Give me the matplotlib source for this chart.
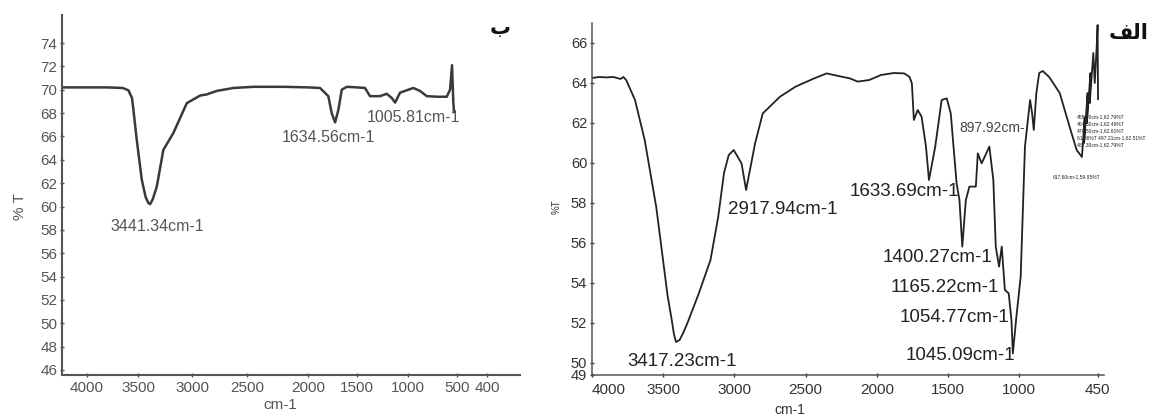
import numpy as np
import matplotlib
matplotlib.use("Agg")
import matplotlib.pyplot as plt

# ---------------- data ----------------
# Panel "ب" (left)
left_wn = [4245, 4000, 3800, 3650, 3595, 3560, 3546, 3513, 3466, 3430, 3405, 3389, 3365, 3327,
           3266, 3173, 3049, 2927, 2866, 2775, 2624, 2448, 2200, 2000, 1878, 1793, 1759, 1724,
           1690, 1656, 1605, 1500, 1422, 1373, 1275, 1209, 1160, 1127, 1078, 946, 878, 809,
           700, 605, 571, 551, 538, 531]
left_T = [70.2, 70.2, 70.2, 70.15, 69.95, 69.3, 68.3, 65.7, 62.3, 60.8, 60.3, 60.2, 60.6, 61.7,
          64.85, 66.3, 68.85, 69.5, 69.6, 69.9, 70.15, 70.25, 70.25, 70.2, 70.15, 69.45, 68.0,
          67.2, 68.3, 70.0, 70.25, 70.2, 70.15, 69.45, 69.45, 69.65, 69.3, 68.9, 69.75, 70.15,
          69.9, 69.45, 69.4, 69.4, 70.0, 72.1, 69.0, 68.1]
left_peaks = ["3441.34cm-1", "1634.56cm-1", "1005.81cm-1"]
left_xticks = [4000, 3500, 3000, 2500, 2000, 1500, 1000, 500, 400]
left_yticks = [46, 48, 50, 52, 54, 56, 58, 60, 62, 64, 66, 68, 70, 72, 74]

# Panel "الف" (right)
right_wn = [3998, 3950, 3900, 3850, 3800, 3780, 3760, 3698, 3630, 3549, 3495, 3470, 3440,
            3425, 3410, 3385, 3360, 3331, 3250, 3168, 3114, 3073, 3040, 3005, 2950, 2918,
            2855, 2801, 2679, 2570, 2450, 2352, 2270, 2189, 2135, 2053, 1971, 1880, 1808,
            1770, 1754, 1740, 1713, 1686, 1655, 1634, 1590, 1545, 1509, 1481, 1440, 1420,
            1400, 1375, 1350, 1305, 1291, 1264, 1210, 1182, 1165, 1142, 1123, 1101, 1074,
            1055, 1045, 1020, 990, 960, 924, 910, 898, 880, 860, 835, 790, 716, 681, 646,
            597, 560, 540, 545, 520, 525, 500, 505, 480, 470, 455, 450, 447]
right_T = [64.25, 64.3, 64.28, 64.3, 64.2, 64.3, 64.15, 63.15, 61.15, 57.8, 54.8, 53.4, 52.15,
           51.45, 51.05, 51.15, 51.5, 51.98, 53.48, 55.15, 57.3, 59.5, 60.4, 60.65, 59.98, 58.65,
           60.98, 62.48, 63.32, 63.82, 64.2, 64.48, 64.35, 64.23, 64.07, 64.15, 64.4, 64.5, 64.48,
           64.3, 63.98, 62.15, 62.65, 62.32, 60.82, 59.15, 60.82, 63.15, 63.23, 62.48, 58.98,
           58.15, 55.82, 58.15, 58.82, 58.82, 60.48, 59.98, 60.82, 59.15, 55.82, 54.82, 55.82,
           53.65, 53.48, 52.15, 50.48, 52.32, 54.32, 60.82, 63.15, 62.5, 61.65, 63.5, 64.5, 64.6,
           64.3, 63.5, 62.65, 61.8, 60.65, 60.3, 62.3, 61.0, 63.5, 62.0, 64.5, 63.0, 65.5, 64.0,
           66.0, 66.9, 63.2]
right_peaks = ["3417.23cm-1", "2917.94cm-1", "1633.69cm-1", "897.92cm-",
               "1400.27cm-1", "1165.22cm-1", "1054.77cm-1", "1045.09cm-1"]
right_small = ["455.70cm-1,62.79%T", "464.30cm-1,62.49%T", "479.50cm-1,62.61%T",
               "61.36%T 497.21cm-1,62.51%T", "487.30cm-1,62.79%T"]
right_small2 = "617.60cm-1,59.95%T"
right_xticks = [4000, 3500, 3000, 2500, 2000, 1500, 1000, 450]
right_yticks = [50, 52, 54, 56, 58, 60, 62, 64, 66]

# ---------------- figure ----------------
W, H = 1149, 417
fig = plt.figure(figsize=(W / 100, H / 100), dpi=100)
FONT = ["Liberation Sans", "DejaVu Sans"]
plt.rcParams["font.family"] = FONT


def fx(px):
    return px / W


def fy(py):
    return 1 - py / H


# piecewise scale for the left panel (reference tick spacing is uneven)
L_WN = np.array([200, 400, 500, 1000, 1500, 2000, 2500, 3000, 3500, 4000, 4400], float)
L_PX = np.array([547, 487, 457, 408, 357, 308, 247, 192, 138, 87, 46], float)


def l_fwd(w):
    return -np.interp(np.asarray(w, float), L_WN, L_PX)


def l_inv(v):
    return np.interp(-np.asarray(v, float), L_PX[::-1], L_WN[::-1])


# ---- left panel ----
axL = fig.add_axes([fx(62), fy(375), fx(520 - 62), (375 - 15) / H])
axL.set_xscale("function", functions=(l_fwd, l_inv))
axL.plot(left_wn, left_T, color="#3a3a3a", lw=1.8, solid_joinstyle="round")
axL.set_xlim(4245, 290)
axL.set_ylim(45.57, 76.4)
axL.set_xticks(left_xticks)
axL.set_xticklabels([str(t) for t in left_xticks])
axL.set_yticks(left_yticks)
axL.minorticks_off()
for s in ["top", "right"]:
    axL.spines[s].set_visible(False)
for s in ["left", "bottom"]:
    axL.spines[s].set_color("#555555")
    axL.spines[s].set_linewidth(1.5)
axL.tick_params(axis="both", labelsize=11, colors="#555555", length=3, width=1,
                direction="inout", pad=2)
axL.tick_params(axis="x", pad=3)

fig.text(fx(20), fy(207), "% T", rotation=90, ha="center", va="center",
         fontsize=11, color="#555555")
fig.text(fx(280), fy(405), "cm-1", ha="center", va="center", fontsize=11, color="#555555")

fig.text(fx(157), fy(227), left_peaks[0], ha="center", va="center", fontsize=11.5, color="#555555")
fig.text(fx(328), fy(138), left_peaks[1], ha="center", va="center", fontsize=11.5, color="#555555")
fig.text(fx(367), fy(117), left_peaks[2], ha="left", va="center", fontsize=11.5, color="#555555")

fig.text(fx(500), fy(28), "\u0628", ha="center", va="center", fontsize=15,
         fontweight="bold", family=["DejaVu Sans"], color="#111111")

# ---- right panel ----
axR = fig.add_axes([fx(592), fy(375), fx(1104 - 592), (375 - 23) / H])
axR.plot(right_wn, right_T, color="#222222", lw=1.3, solid_joinstyle="round")
axR.set_xlim(4000, 405)
axR.set_ylim(49.4, 67.0)
axR.set_xticks(right_xticks)
axR.set_xticklabels([str(t) for t in right_xticks])
axR.set_yticks([49.4] + right_yticks)
axR.set_yticklabels(["49"] + [str(t) for t in right_yticks])
for s in ["top", "right"]:
    axR.spines[s].set_visible(False)
for s in ["left", "bottom"]:
    axR.spines[s].set_color("#555555")
    axR.spines[s].set_linewidth(1.1)
axR.tick_params(axis="both", labelsize=10.5, colors="#333333", length=3, width=1,
                direction="inout", pad=2)
axR.tick_params(axis="x", labelsize=11, pad=4)
axR.get_xticklabels()[0].set_ha("left")

fig.text(fx(557), fy(207), "%T", rotation=90, ha="center", va="center",
         fontsize=7, color="#333333")
fig.text(fx(790), fy(410), "cm-1", ha="center", va="center", fontsize=10, color="#333333")

rp_pos = [(682, 362, "center"), (728, 210, "left"), (850, 192, "left"),
          (959, 128, "left"), (883, 257, "left"), (891, 288, "left"),
          (900, 317, "left"), (906, 355, "left")]
for (px, py, ha), lab in zip(rp_pos, right_peaks):
    size = 10 if lab.startswith("897") else 13.5
    col = "#444444" if lab.startswith("897") else "#222222"
    fig.text(fx(px), fy(py), lab, ha=ha, va="center", fontsize=size, color=col)

for i, lab in enumerate(right_small):
    fig.text(fx(1077), fy(117 + 7 * i), lab, ha="left", va="center", fontsize=3.6,
             color="#222222")
fig.text(fx(1053), fy(177), right_small2, ha="left", va="center", fontsize=3.6,
         color="#222222")

fig.text(fx(1148), fy(33), "\uFED2\uFEDF\u0627", ha="right", va="center", fontsize=15,
         fontweight="bold", family=["DejaVu Sans"], color="#111111")

fig.savefig("out.png", dpi=100)
